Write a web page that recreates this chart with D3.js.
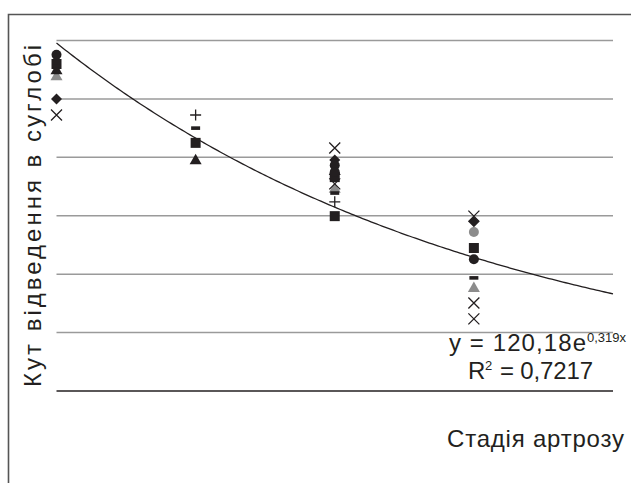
<!DOCTYPE html>
<html><head><meta charset="utf-8">
<script src="https://cdn.jsdelivr.net/npm/d3@7"></script>
<style>body{margin:0;background:#fff}svg{display:block}text{font-family:"Liberation Sans",Arial,sans-serif;fill:#231f20}</style>
</head><body><div id="c"></div>
<script>
// ---- data ----
const stages = [1, 2, 3, 4];
const gridValues = [0, 14.67, 29.33, 44, 58.67, 73.33, 88];
const trendA = 120.18, trendB = -0.319;
const trendRange = [1, 5];
// series: [stage, value]
const sCircle   = [[1, 84.4], [3, 56.7], [3, 55.0], [4, 33.1]];
const sSquare   = [[1, 82.1], [2, 62.3], [3, 53.7], [3, 43.9], [4, 35.9]];
const sTriangle = [[1, 80.8], [2, 58.2], [3, 55.5]];
const sTriGray  = [[1, 79.3], [3, 51.0], [4, 26.1]];
const sDiamond  = [[1, 73.3], [3, 58.0], [4, 42.5]];
const sCross    = [[1, 69.3], [3, 61.0], [3, 52.0], [4, 43.9], [4, 22.1], [4, 18.1]];
const sPlus     = [[2, 69.3], [3, 47.5]];
const sDash     = [[1, 81.6], [2, 66.0], [3, 49.7], [4, 28.4]];
const sCircGray = [[4, 39.9]];
const yLabel = "Кут відведення в суглобі";
const xLabel = "Стадія артрозу";

// ---- layout ----
const W = 631, H = 483;
const svg = d3.select("#c").append("svg").attr("width", W).attr("height", H);
const x = d3.scaleLinear().domain(trendRange).range([56.5, 613]);
const y = d3.scaleLinear().domain([0, 88]).range([391, 40.5]);

// frame
svg.append("path").attr("d", `M8.5,${H} V14.5 H${W}`).attr("fill", "none")
  .attr("stroke", "#555").attr("stroke-width", 1.6);

// gridlines
svg.selectAll("line.grid").data(gridValues.slice(1)).join("line")
  .attr("x1", x(1)).attr("x2", x(5)).attr("y1", d => y(d)).attr("y2", d => y(d))
  .attr("stroke", "#9a9a9a").attr("stroke-width", 1.5);
// axis
svg.append("line").attr("x1", x(1)).attr("x2", x(5)).attr("y1", y(0)).attr("y2", y(0))
  .attr("stroke", "#231f20").attr("stroke-width", 1.5);

// trend
const tx = d3.range(trendRange[0], trendRange[1] + 0.001, 0.02);
svg.append("path").datum(tx)
  .attr("d", d3.line().x(d => x(d)).y(d => y(trendA * Math.exp(trendB * d))))
  .attr("fill", "none").attr("stroke", "#231f20").attr("stroke-width", 1.3);

// markers
const black = "#231f20", gray = "#8c8c8c";
function draw(data, type, color) {
  const g = svg.append("g");
  data.forEach(([s, v]) => {
    const cx = x(s), cy = y(v);
    if (type === "circle") g.append("circle").attr("cx", cx).attr("cy", cy).attr("r", 5).attr("fill", color);
    else if (type === "square") g.append("rect").attr("x", cx - 5).attr("y", cy - 5).attr("width", 10).attr("height", 10).attr("fill", color);
    else if (type === "triangle") g.append("path").attr("d", `M${cx},${cy-5.5}L${cx+6},${cy+5}L${cx-6},${cy+5}Z`).attr("fill", color);
    else if (type === "diamond") g.append("path").attr("d", `M${cx},${cy-5.5}L${cx+5.5},${cy}L${cx},${cy+5.5}L${cx-5.5},${cy}Z`).attr("fill", color);
    else if (type === "cross") g.append("path").attr("d", `M${cx-5.5},${cy-5.5}L${cx+5.5},${cy+5.5}M${cx+5.5},${cy-5.5}L${cx-5.5},${cy+5.5}`).attr("stroke", color).attr("stroke-width", 1.3);
    else if (type === "plus") g.append("path").attr("d", `M${cx-5.5},${cy}H${cx+5.5}M${cx},${cy-5.5}V${cy+5.5}`).attr("stroke", color).attr("stroke-width", 1.3);
    else if (type === "dash") g.append("rect").attr("x", cx - 4.5).attr("y", cy - 1.8).attr("width", 9).attr("height", 3.6).attr("fill", color);
  });
}
draw(sCircGray, "circle", gray);
draw(sTriGray, "triangle", gray);
draw(sDiamond, "diamond", black);
draw(sTriangle, "triangle", black);
draw(sSquare, "square", black);
draw(sCircle, "circle", black);
draw(sDash, "dash", black);
draw(sPlus, "plus", black);
draw(sCross, "cross", black);

// texts
svg.append("text").attr("transform", "translate(41,216) rotate(-90)")
  .attr("x", -171).attr("font-size", 24)
  .attr("textLength", 342).attr("lengthAdjust", "spacing").text(yLabel);
svg.append("text").attr("x", 447).attr("y", 447)
  .attr("font-size", 24).attr("textLength", 177).attr("lengthAdjust", "spacing").text(xLabel);
svg.append("text").attr("x", 449).attr("y", 351).attr("font-size", 24)
  .attr("textLength", 137).attr("lengthAdjust", "spacing").text("y = 120,18e");
svg.append("text").attr("x", 587).attr("y", 342).attr("font-size", 13).text("0,319x");
svg.append("text").attr("x", 468).attr("y", 379).attr("font-size", 24).text("R");
svg.append("text").attr("x", 485).attr("y", 370).attr("font-size", 13).text("2");
svg.append("text").attr("x", 500).attr("y", 379).attr("font-size", 24)
  .attr("textLength", 93).attr("lengthAdjust", "spacing").text("= 0,7217");
</script></body></html>
